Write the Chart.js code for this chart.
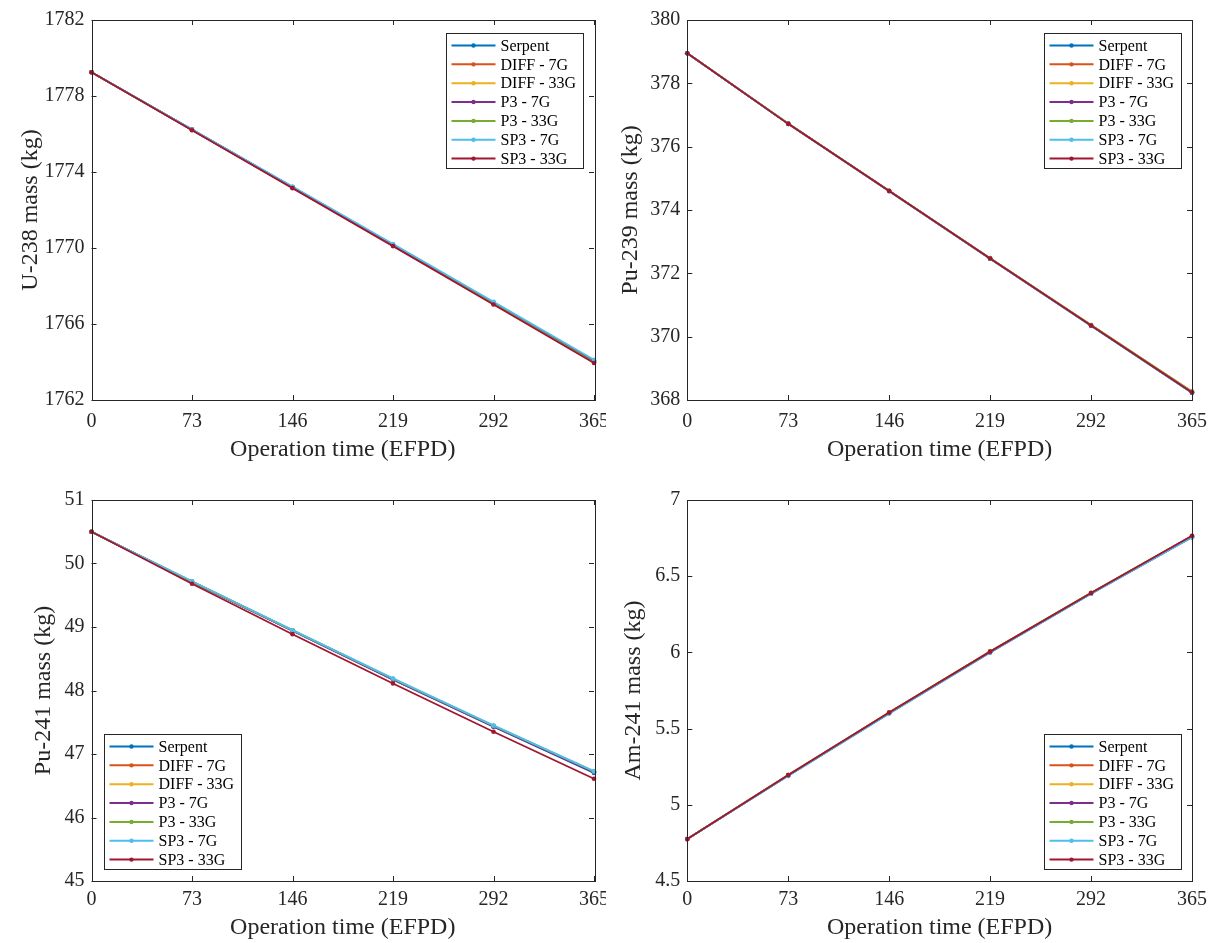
<!DOCTYPE html>
<html><head><meta charset="utf-8">
<script src="https://cdn.jsdelivr.net/npm/chart.js@4.4.1/dist/chart.umd.min.js"></script>
<style>
html,body{margin:0;padding:0;background:#fff;}
body{width:1213px;height:943px;position:relative;overflow:hidden;}
canvas{position:absolute;display:block;}
</style></head><body>
<canvas id="c1" width="606" height="470" style="left:0;top:0"></canvas>
<canvas id="c2" width="613" height="470" style="left:600px;top:0"></canvas>
<canvas id="c3" width="606" height="463" style="left:0;top:480px"></canvas>
<canvas id="c4" width="613" height="463" style="left:600px;top:480px"></canvas>
<script>
// ---------- data ----------
const days = [0, 73, 146, 219, 292, 365];
const seriesNames = ['Serpent', 'DIFF - 7G', 'DIFF - 33G', 'P3 - 7G', 'P3 - 33G', 'SP3 - 7G', 'SP3 - 33G'];
const seriesColors = ['#0072BD', '#D95319', '#EDB120', '#7E2F8E', '#77AC30', '#4DBEEE', '#A2142F'];

const u238Serpent = [1779.25, 1776.23, 1773.21, 1770.18, 1767.13, 1764.07];
const u238Diff7   = [1779.25, 1776.22, 1773.19, 1770.15, 1767.10, 1764.03];
const u238Diff33  = [1779.25, 1776.21, 1773.17, 1770.13, 1767.07, 1764.00];
const u238P37     = [1779.25, 1776.23, 1773.20, 1770.17, 1767.12, 1764.06];
const u238P333    = [1779.25, 1776.21, 1773.17, 1770.12, 1767.06, 1763.99];
const u238SP37    = [1779.25, 1776.24, 1773.23, 1770.21, 1767.17, 1764.12];
const u238SP333   = [1779.25, 1776.20, 1773.15, 1770.10, 1767.03, 1763.95];

const pu239Serpent = [378.95, 376.72, 374.60, 372.47, 370.35, 368.24];
const pu239Diff7   = [378.95, 376.73, 374.61, 372.48, 370.37, 368.27];
const pu239Diff33  = [378.95, 376.72, 374.60, 372.47, 370.36, 368.25];
const pu239P37     = [378.95, 376.72, 374.60, 372.46, 370.35, 368.23];
const pu239P333    = [378.95, 376.73, 374.61, 372.48, 370.37, 368.26];
const pu239SP37    = [378.95, 376.72, 374.59, 372.46, 370.34, 368.22];
const pu239SP333   = [378.95, 376.72, 374.60, 372.47, 370.35, 368.24];

const pu241Serpent = [50.50, 49.710, 48.940, 48.170, 47.430, 46.700];
const pu241Diff7   = [50.50, 49.715, 48.945, 48.180, 47.440, 46.720];
const pu241Diff33  = [50.50, 49.715, 48.945, 48.180, 47.445, 46.725];
const pu241P37     = [50.50, 49.710, 48.940, 48.175, 47.435, 46.710];
const pu241P333    = [50.50, 49.715, 48.950, 48.185, 47.445, 46.725];
const pu241SP37    = [50.50, 49.720, 48.950, 48.190, 47.450, 46.730];
const pu241SP333   = [50.50, 49.680, 48.885, 48.110, 47.350, 46.610];

const am241Serpent = [4.775, 5.190, 5.600, 6.000, 6.385, 6.755];
const am241Diff7   = [4.775, 5.195, 5.605, 6.005, 6.390, 6.762];
const am241Diff33  = [4.775, 5.195, 5.605, 6.005, 6.390, 6.763];
const am241P37     = [4.775, 5.192, 5.602, 6.002, 6.387, 6.758];
const am241P333    = [4.775, 5.195, 5.605, 6.005, 6.391, 6.764];
const am241SP37    = [4.775, 5.190, 5.600, 6.000, 6.385, 6.756];
const am241SP333   = [4.775, 5.195, 5.605, 6.005, 6.390, 6.765];

const xTicks = [0, 73, 146, 219, 292, 365];
const xTickLabels = ['0', '73', '146', '219', '292', '365'];
const u238Ticks = [1762, 1766, 1770, 1774, 1778, 1782];
const u238TickLabels = ['1762', '1766', '1770', '1774', '1778', '1782'];
const pu239Ticks = [368, 370, 372, 374, 376, 378, 380];
const pu239TickLabels = ['368', '370', '372', '374', '376', '378', '380'];
const pu241Ticks = [45, 46, 47, 48, 49, 50, 51];
const pu241TickLabels = ['45', '46', '47', '48', '49', '50', '51'];
const am241Ticks = [4.5, 5, 5.5, 6, 6.5, 7];
const am241TickLabels = ['4.5', '5', '5.5', '6', '6.5', '7'];

const xTitle = 'Operation time (EFPD)';
// ---------- drawing ----------
const FONT = "'Liberation Serif', 'Times New Roman', serif";
const AX = '#262626';

const boxPlugin = {
  id: 'matlabBox',
  afterDatasetsDraw(chart) {
    const {ctx, chartArea: a, scales: {x, y}} = chart;
    const o = chart.options.plugins.matlabBox;
    ctx.save();
    ctx.strokeStyle = AX; ctx.lineWidth = 1;
    ctx.beginPath();
    const tl = 5;
    xTicks.forEach(v => {
      const px = Math.round(x.getPixelForValue(v)) + 0.5;
      ctx.moveTo(px, a.bottom); ctx.lineTo(px, a.bottom - tl);
      ctx.moveTo(px, a.top); ctx.lineTo(px, a.top + tl);
    });
    o.yTicks.forEach(v => {
      const py = Math.round(y.getPixelForValue(v)) + 0.5;
      ctx.moveTo(a.left, py); ctx.lineTo(a.left + tl, py);
      ctx.moveTo(a.right, py); ctx.lineTo(a.right - tl, py);
    });
    ctx.stroke();
    ctx.strokeRect(Math.round(a.left) + 0.5, Math.round(a.top) + 0.5, Math.round(a.right - a.left), Math.round(a.bottom - a.top));
    // legend
    const W = 137, H = 135;
    let lx = o.legend.includes('left') ? a.left + 12 : a.right - 11 - W;
    let ly = o.legend.includes('top') ? a.top + 13 : a.bottom - 12 - H;
    lx = Math.round(lx) + 0.5; ly = Math.round(ly) + 0.5;
    ctx.fillStyle = '#fff';
    ctx.fillRect(lx, ly, W, H);
    ctx.strokeStyle = AX;
    ctx.strokeRect(lx, ly, W, H);
    ctx.font = '16px ' + FONT;
    ctx.textBaseline = 'middle';
    ctx.textAlign = 'left';
    chart.data.datasets.forEach((ds, i) => {
      const cy = ly + 12 + i * 18.85;
      ctx.strokeStyle = ds.borderColor; ctx.lineWidth = 2;
      ctx.beginPath(); ctx.moveTo(lx + 5, cy); ctx.lineTo(lx + 49, cy); ctx.stroke();
      ctx.fillStyle = ds.borderColor;
      ctx.beginPath(); ctx.arc(lx + 27, cy, 2.2, 0, Math.PI * 2); ctx.fill();
      ctx.fillStyle = '#000';
      ctx.fillText(ds.label, lx + 54, cy + 1);
    });
    ctx.restore();
  }
};

function makeChart(id, cfg) {
  const canvas = document.getElementById(id);
  const Wc = canvas.width, Hc = canvas.height;
  const datasets = cfg.series.map((s, i) => ({
    label: seriesNames[i],
    data: days.map((d, j) => ({x: d, y: s[j]})),
    borderColor: seriesColors[i],
    backgroundColor: seriesColors[i],
    borderWidth: 1.8,
    pointRadius: 2.3,
    pointBorderWidth: 0,
    pointHoverRadius: 2.3,
    tension: 0,
    order: cfg.series.length - i,
    clip: 4
  }));
  return new Chart(canvas, {
    type: 'line',
    data: {datasets},
    plugins: [boxPlugin],
    options: {
      responsive: false,
      animation: false,
      events: [],
      layout: {padding: {top: cfg.top, right: Wc - cfg.right, left: 0, bottom: 0}},
      plugins: {
        legend: {display: false},
        tooltip: {enabled: false},
        matlabBox: {yTicks: cfg.yTicks, legend: cfg.legend}
      },
      scales: {
        x: {
          type: 'linear', min: 0, max: 365,
          grid: {display: false, drawTicks: false},
          border: {display: false},
          afterBuildTicks: s => { s.ticks = xTicks.map(v => ({value: v})); },
          afterFit: s => { s.height = Hc - cfg.bottom; s.paddingLeft = 0; s.paddingRight = 0; },
          ticks: {
            color: AX, font: {family: FONT, size: 20}, padding: cfg.xtkPad, maxRotation: 0, autoSkip: false,
            callback: (v, i) => xTickLabels[i]
          },
          title: {display: true, text: xTitle, color: AX, font: {family: FONT, size: 24}, padding: {top: 0, bottom: cfg.xtPad}}
        },
        y: {
          type: 'linear', min: cfg.min, max: cfg.max,
          grid: {display: false, drawTicks: false},
          border: {display: false},
          afterBuildTicks: s => { s.ticks = cfg.yTicks.map(v => ({value: v})); },
          afterFit: s => { s.width = cfg.left; s.paddingTop = 0; s.paddingBottom = 0; },
          ticks: {
            color: AX, font: {family: FONT, size: 20}, padding: 7, autoSkip: false,
            callback: (v, i) => cfg.yLabels[i]
          },
          title: {display: true, text: cfg.yTitle, color: AX, font: {family: FONT, size: 24}, padding: {top: cfg.ytPad, bottom: 0}}
        }
      }
    }
  });
}

makeChart('c1', {
  series: [u238Serpent, u238Diff7, u238Diff33, u238P37, u238P333, u238SP37, u238SP333],
  min: 1762, max: 1782, yTicks: u238Ticks, yLabels: u238TickLabels, yTitle: 'U-238 mass (kg)',
  left: 91.5, right: 594, top: 20, bottom: 400, xtkPad: 10, xtPad: 6, ytPad: 16, legend: 'top-right'
});
makeChart('c2', {
  series: [pu239Serpent, pu239Diff7, pu239Diff33, pu239P37, pu239P333, pu239SP37, pu239SP333],
  min: 368, max: 380, yTicks: pu239Ticks, yLabels: pu239TickLabels, yTitle: 'Pu-239 mass (kg)',
  left: 87.3, right: 592, top: 20, bottom: 400, xtkPad: 10, xtPad: 6, ytPad: 16, legend: 'top-right'
});
makeChart('c3', {
  series: [pu241Serpent, pu241Diff7, pu241Diff33, pu241P37, pu241P333, pu241SP37, pu241SP333],
  min: 45, max: 51, yTicks: pu241Ticks, yLabels: pu241TickLabels, yTitle: 'Pu-241 mass (kg)',
  left: 91.5, right: 594, top: 20, bottom: 401, xtkPad: 7, xtPad: 1, ytPad: 29, legend: 'bottom-left'
});
makeChart('c4', {
  series: [am241Serpent, am241Diff7, am241Diff33, am241P37, am241P333, am241SP37, am241SP333],
  min: 4.5, max: 7, yTicks: am241Ticks, yLabels: am241TickLabels, yTitle: 'Am-241 mass (kg)',
  left: 87.3, right: 592, top: 20, bottom: 401, xtkPad: 7, xtPad: 1, ytPad: 19, legend: 'bottom-right'
});
</script>
</body></html>
